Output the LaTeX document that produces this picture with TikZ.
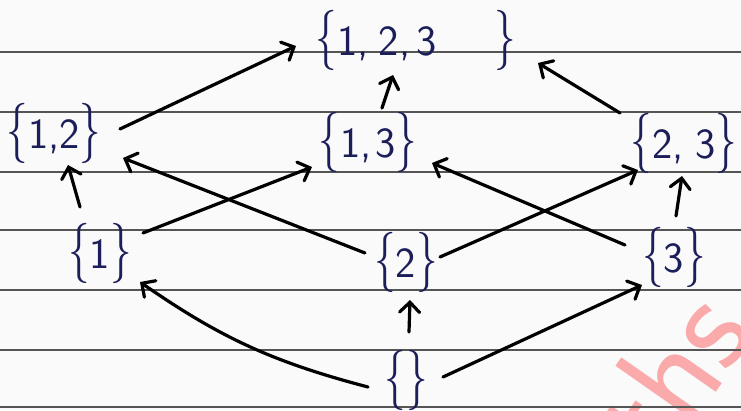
\documentclass[tikz,border=0pt]{standalone}
\usepackage{graphicx}
\usetikzlibrary{arrows.meta,calc}
\definecolor{ink}{RGB}{28,30,90}
\definecolor{paper}{RGB}{250,250,250}
\definecolor{ruling}{RGB}{85,85,85}
\definecolor{wm}{RGB}{250,170,170}
\newcommand\LB{\scalebox{1}[1.4]{\{}}
\newcommand\RB{\scalebox{1}[1.4]{\}}}
\begin{document}
\begin{tikzpicture}[x=1pt,y=-1pt,
 setnode/.style={text=ink,font=\sffamily\fontsize{43}{50}\selectfont,inner sep=0pt},
 hasse/.style={draw=black,line width=3.2pt,line cap=round,-{Straight Barb[length=10pt,width=20pt,line cap=round]}},
 ruleline/.style={draw=ruling,line width=2pt}]
\useasboundingbox (0,0) rectangle (741,410);
\clip (0,0) rectangle (741,410);
\fill[paper] (0,0) rectangle (741,410);
\node[rotate=55,text=wm,inner sep=0pt,font=\sffamily\fontsize{140}{150}\selectfont] (wmk) at (670,374) {ths};
\foreach \yy in {52,112,172,230,290,350,407} \draw[ruleline] (0,\yy) -- (741,\yy);
\node[setnode] (n123) at (416,40) {\LB1,\hspace{10pt}2,\hspace{6pt}3\hspace{58pt}\RB};
\node[setnode] (n12) at (54,133) {\LB1,2\RB};
\node[setnode] (n13) at (368,142) {\LB1,\hspace{4pt}3\RB};
\node[setnode] (n23) at (684,143) {\LB2,\hspace{12pt}3\RB};
\node[setnode] (n1) at (100,253) {\LB1\RB};
\node[setnode] (n2) at (406,262) {\LB2\RB};
\node[setnode] (n3) at (674,257) {\LB3\RB};
\node[setnode] (ne) at (406,380) {\LB\RB};
\draw[hasse] ([shift={(66,-4)}]n12.center) -- ([shift={(-120,6)}]n123.center);
\draw[hasse] ([shift={(14,-34)}]n13.center) -- ([shift={(-23,35)}]n123.center);
\draw[hasse] ([shift={(-64,-30)}]n23.center) -- ([shift={(122,23)}]n123.center);
\draw[hasse] ([shift={(-20,-46)}]n1.center) -- ([shift={(14,32)}]n12.center);
\draw[hasse] ([shift={(43,-20)}]n1.center) -- ([shift={(-56,25)}]n13.center);
\draw[hasse] ([shift={(-41,-9)}]n2.center) -- ([shift={(69,25)}]n12.center);
\draw[hasse] ([shift={(34,-5)}]n2.center) -- ([shift={(-46,27)}]n23.center);
\draw[hasse] ([shift={(-49,-12)}]n3.center) -- ([shift={(64,21)}]n13.center);
\draw[hasse] ([shift={(2,-41)}]n3.center) -- ([shift={(-2,33)}]n23.center);
\draw[hasse] ([shift={(-38,7)}]ne.center) to[bend left=10] ([shift={(40,29)}]n1.center);
\draw[hasse] ([shift={(3,-48)}]ne.center) -- ([shift={(4,38)}]n2.center);
\draw[hasse] ([shift={(37,-3)}]ne.center) -- ([shift={(-32,28)}]n3.center);
\end{tikzpicture}
\end{document}
